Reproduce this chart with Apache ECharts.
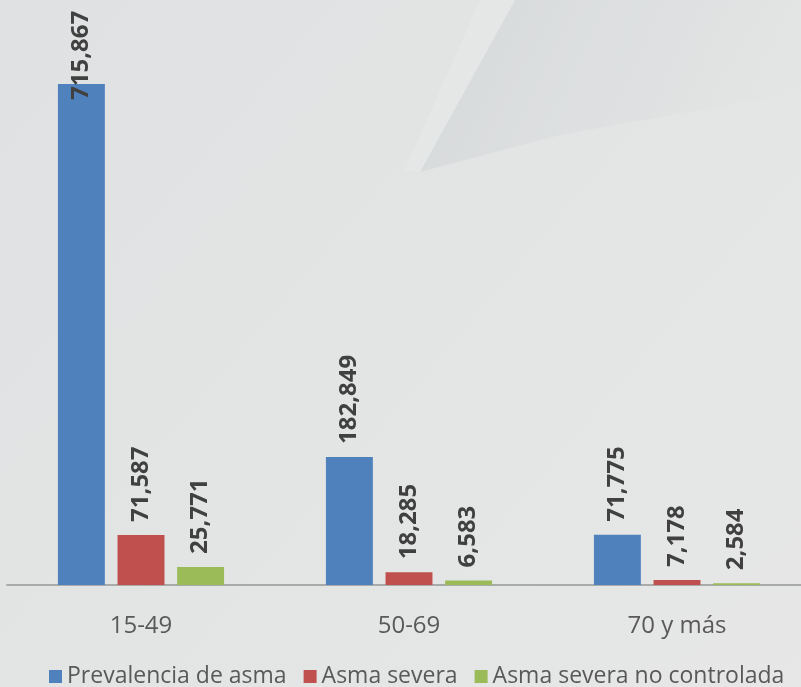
<!DOCTYPE html>
<html>
<head>
<meta charset="utf-8">
<script src="https://cdn.jsdelivr.net/npm/echarts@6/dist/echarts.min.js"></script>
<style>
  html, body { margin: 0; padding: 0; background: #e2e4e4; overflow: hidden; }
  /* el grafico original esta recortado a la derecha */
  #main { width: 811px; height: 687px; }
</style>
</head>
<body>
<div id="main"></div>
<script>
// datos
var categorias = ['15-49', '50-69', '70 y más'];
var prevalencia = [715867, 182849, 71775];
var severa = [71587, 18285, 7178];
var noControlada = [25771, 6583, 2584];

var myChart = echarts.init(document.getElementById('main'));

function fmt(p) {
  return p.value.toLocaleString('en-US');
}

var etiqueta = {
  show: true,
  position: 'top',
  rotate: 90,
  align: 'left',
  verticalAlign: 'middle',
  distance: 13,
  formatter: fmt,
  color: '#404040',
  fontFamily: 'Open Sans',
  fontWeight: 'bold',
  fontSize: 24
};

// la primera barra es tan alta que la etiqueta entra en la barra
var prevData = prevalencia.map(function (v, i) {
  if (i === 0) return { value: v, label: { distance: -16 } };
  return v;
});

myChart.setOption({
  backgroundColor: {
    type: 'linear', x: 0, y: 0, x2: 1, y2: 1,
    colorStops: [
      { offset: 0, color: '#dfe1e2' },
      { offset: 0.5, color: '#e3e5e5' },
      { offset: 1, color: '#e6e7e6' }
    ]
  },
  graphic: [
    {
      type: 'polygon',
      silent: true,
      z: -1,
      shape: { points: [[515, 0], [811, 0], [811, 90], [560, 135], [420, 172]] },
      style: {
        fill: {
          type: 'linear', x: 0, y: 0, x2: 1, y2: 1,
          colorStops: [
            { offset: 0, color: 'rgba(190,194,200,0.35)' },
            { offset: 0.6, color: 'rgba(200,203,206,0.15)' },
            { offset: 1, color: 'rgba(220,222,222,0)' }
          ]
        }
      }
    },
    {
      type: 'polygon',
      silent: true,
      z: -1,
      shape: { points: [[480, 0], [515, 0], [420, 172], [405, 170]] },
      style: { fill: 'rgba(236,238,238,0.3)' }
    }
  ],
  color: ['#4F81BD', '#C0504D', '#9BBB59'],
  textStyle: { fontFamily: 'Open Sans' },
  legend: {
    bottom: -6,
    left: 44,
    icon: 'rect',
    itemWidth: 13,
    itemHeight: 13,
    itemGap: 17,
    itemStyle: { borderWidth: 0 },
    textStyle: { fontSize: 23, color: '#595959', fontFamily: 'Open Sans' },
    data: ['Prevalencia de asma', 'Asma severa', 'Asma severa no controlada']
  },
  grid: { left: 7, top: 25, right: 0, height: 560 },
  xAxis: {
    type: 'category',
    data: categorias,
    axisLine: { lineStyle: { color: '#a9abab', width: 2 } },
    axisTick: { show: false },
    axisLabel: { fontSize: 24, color: '#595959', margin: 29 }
  },
  yAxis: {
    type: 'value',
    min: 0,
    max: 800000,
    show: false,
    splitLine: { show: false }
  },
  series: [
    {
      name: 'Prevalencia de asma',
      type: 'bar',
      barGap: '27%',
      barCategoryGap: '38%',
      data: prevData,
      label: etiqueta
    },
    {
      name: 'Asma severa',
      type: 'bar',
      data: severa,
      label: etiqueta
    },
    {
      name: 'Asma severa no controlada',
      type: 'bar',
      data: noControlada,
      label: etiqueta
    }
  ]
});
</script>
</body>
</html>
